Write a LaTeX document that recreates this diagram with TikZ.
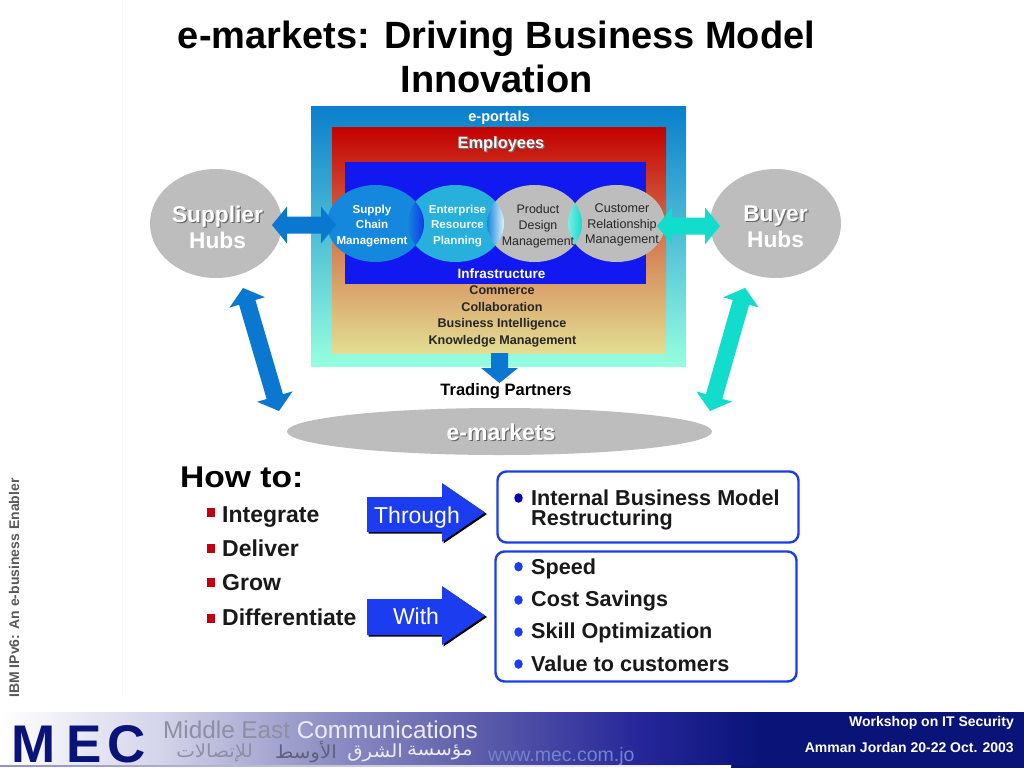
\documentclass[tikz,border=0pt]{standalone}
\usepackage{fontspec}
\setmainfont{Liberation Sans}
\newfontfamily\arabicfont[Script=Arabic]{DejaVu Sans}
\TeXXeTstate=1
\usetikzlibrary{shapes.geometric,calc}
\definecolor{portA}{HTML}{0A7FCC}
\definecolor{portB}{HTML}{96FFE0}
\definecolor{empA}{HTML}{C40000}
\definecolor{empB}{HTML}{E2DE92}
\definecolor{infra}{HTML}{1218F0}
\definecolor{arrowblue}{HTML}{0A78D0}
\definecolor{arrowteal}{HTML}{12DCCC}
\definecolor{hubgray}{HTML}{BDBDBD}
\definecolor{scm}{HTML}{1488DC}
\definecolor{erp}{HTML}{28B0DC}
\definecolor{royal}{HTML}{1C3CF0}
\definecolor{boxblue}{HTML}{1C3CF0}
\definecolor{bullred}{HTML}{C00010}
\definecolor{navy}{HTML}{0A1478}
\definecolor{fA}{HTML}{D4D4EA}
\definecolor{fB}{HTML}{9292C6}
\definecolor{fC}{HTML}{5C5CAA}
\definecolor{fD}{HTML}{26269A}
\definecolor{lightw}{HTML}{ECECF6}
\definecolor{midgray}{HTML}{8E8EA4}
\definecolor{webblue}{HTML}{7484CC}
\definecolor{argray}{HTML}{60607C}
\newcommand{\fsz}[1]{\fontsize{#1}{#1}\selectfont}
\newcommand{\shadowed}[2]{\leavevmode\rlap{\raisebox{-1.2pt}{\kern1.2pt\textcolor{#1}{#2}}}#2}
\tikzset{
  x=1pt,y=-1pt,
  lab/.style={inner sep=0pt,align=center,font=\bfseries},
  ell/.style={ellipse,inner sep=0pt,fill=hubgray},
  roundbox/.style={draw=boxblue,line width=2.4pt,fill=white,rounded corners=9pt},
  bul/.style={inner sep=0pt,minimum width=8.5pt,minimum height=9pt,fill=bullred},
  dot/.style={ellipse,inner sep=0pt,minimum width=8.5pt,minimum height=9.5pt,fill=boxblue},
  howitem/.style={inner sep=0pt,anchor=base west,black!90,font=\bfseries\fsz{23}},
  valitem/.style={inner sep=0pt,anchor=base west,black!90,font=\bfseries\fsz{21.6}},
  arword/.style={inner sep=0pt,anchor=east,font=\arabicfont\fsz{18}},
}
\newcommand{\blockarrow}[3]{%
  \fill[#3] let \p1=($(#2)-(#1)$), \n1={atan2(\y1,\x1)} in
    [rotate around={\n1:(#1)}] (#1) -- ++(15,-18.5) -- ++(0,10) -- ($(#1)+({veclen(\x1,\y1)-15},-8.5)$) -- ++(0,-10) -- ($(#1)+({veclen(\x1,\y1)},0)$) -- ++(-15,18.5) -- ++(0,-10) -- ($(#1)+(15,8.5)$) -- ++(0,10) -- cycle;}
\begin{document}
\begin{tikzpicture}
\useasboundingbox (0,0) rectangle (1024,768);
\fill[white] (0,0) rectangle (1024,768);
\draw[black!3,line width=0.8pt] (122,0) -- (122,695);

% title
\node[lab,font=\bfseries\fsz{38}] (t1) at (496.5,39) {e-markets: Driving Business Model};
\node[lab,font=\bfseries\fsz{38}] (t2) at (496.5,79) {Innovation};

% nested rectangles
\shade[top color=portA,bottom color=portB] (311,106) rectangle (686,366);
\shade[top color=empA,bottom color=empB,middle color=empA!45!empB!100] (332,127) rectangle (666,353);
\fill[infra] (345,162) rectangle (646,284);

\node[lab,white,font=\bfseries\fsz{14.5}] (portals) at (499,118) {e-portals};
\node[lab,white,font=\bfseries\fsz{16.4}] (emp) at (501,144.5) {\shadowed{black!55}{Employees}};
\node[lab,white,font=\bfseries\fsz{13.5}] (inf) at (501.5,273.5) {Infrastructure};
\node[lab,black!85,font=\bfseries\fsz{12.6}] (l1) at (502,290) {Commerce};
\node[lab,black!85,font=\bfseries\fsz{12.6}] (l2) at (502,307) {Collaboration};
\node[lab,black!85,font=\bfseries\fsz{12.6}] (l3) at (502,324) {Business Intelligence};
\node[lab,black!85,font=\bfseries\fsz{12.6}] (l4) at (502.5,341) {Knowledge Management};

% process ellipses
\node[ell,fill=scm,minimum width=97pt,minimum height=77pt] (scm) at (375.5,223.5) {};
\node[ell,fill=erp,minimum width=97pt,minimum height=77pt] (erp) at (455.5,223.5) {};
\node[ell,minimum width=95pt,minimum height=77pt] (pdm) at (534.5,223.5) {};
\node[ell,minimum width=97pt,minimum height=77pt] (crm) at (616.5,223.5) {};
% overlap lenses
\begin{scope}
 \clip (375.5,223.5) ellipse [x radius=48.5,y radius=38.5];
 \clip (455.5,223.5) ellipse [x radius=48.5,y radius=38.5];
 \shade[left color=scm,right color=infra!70!scm] (407,180) rectangle (424,270);
\end{scope}
\begin{scope}
 \clip (455.5,223.5) ellipse [x radius=48.5,y radius=38.5];
 \clip (534.5,223.5) ellipse [x radius=47.5,y radius=38.5];
 \shade[left color=scm,right color=white!85!erp] (487,180) rectangle (504,270);
\end{scope}
\begin{scope}
 \clip (534.5,223.5) ellipse [x radius=47.5,y radius=38.5];
 \clip (616.5,223.5) ellipse [x radius=48.5,y radius=38.5];
 \shade[left color=white!45!arrowteal,right color=arrowteal] (568,180) rectangle (582,270);
\end{scope}
\node[lab,white,font=\bfseries\fsz{11.6}] (scmt) at (372,226) {Supply\\[4pt]Chain\\[4pt]Management};
\node[lab,white!92!erp,font=\bfseries\fsz{11.6}] (erpt) at (457.5,226) {Enterprise\\[4pt]Resource\\[4pt]Planning};
\node[inner sep=0pt,align=center,black!85,font=\fsz{12.4}] (pdmt) at (538,226) {Product\\[3.4pt]Design\\[3.4pt]Management};
\node[inner sep=0pt,align=center,black!85,font=\fsz{12.6}] (crmt) at (622,225) {Customer\\[3.2pt]Relationship\\[3.2pt]Management};

% hubs
\node[ell,minimum width=132pt,minimum height=109pt] (sup) at (216,223.5) {};
\node[lab,white,font=\bfseries\fsz{22.7}] (supt) at (217.5,227) {\shadowed{black!60}{Supplier}\\[3.3pt]Hubs};
\node[ell,minimum width=131pt,minimum height=109pt] (buy) at (775.5,223.5) {};
\node[lab,white,font=\bfseries\fsz{22.7}] (buyt) at (775.5,227) {\shadowed{black!60}{Buyer}\\[3.3pt]Hubs};
\node[ell,minimum width=425pt,minimum height=47pt] (mkt) at (499.5,431.5) {};
\node[lab,white,font=\bfseries\fsz{23}] (mktt) at (501,432.5) {\shadowed{black!60}{e-markets}};

% block arrows
\coordinate (a1) at (272,225); \coordinate (a2) at (336,225);
\coordinate (b1) at (657,226); \coordinate (b2) at (720,226);
\coordinate (c1) at (243,288); \coordinate (c2) at (279,411);
\coordinate (d1) at (745,288); \coordinate (d2) at (710,411);
\blockarrow{a1}{a2}{arrowblue}
\blockarrow{b1}{b2}{arrowteal}
\blockarrow{c1}{c2}{arrowblue}
\blockarrow{d1}{d2}{arrowteal}
\fill[arrowblue] (491,353) -- (508,353) -- (508,368) -- (518,368) -- (499.5,383) -- (481,368) -- (491,368) -- cycle;
\node[lab,font=\bfseries\fsz{16.5}] (tp) at (506,391) {Trading Partners};

% how to
\node[inner sep=0pt,anchor=base west,font=\bfseries\fsz{30}] (how) at (180,487) {\scalebox{1.12}[1]{How to:}};
\foreach \n/\y/\b/\t in {a/512.5/522/Integrate,b/548.5/556/Deliver,c/582.5/590/Grow,d/618/625/Differentiate}{
  \node[bul] (bul\n) at (211,\y) {};
  \node[howitem] (h\n) at (222,\b) {\t};
}

% through / with arrows
\fill[black] (368.5,498.5) -- (443.5,498.5) -- (443.5,484.5) -- (487,514) -- (443.5,543.5) -- (443.5,533.5) -- (368.5,533.5) -- cycle;
\fill[royal] (367,497) -- (442,497) -- (442,483) -- (485,512.5) -- (442,542) -- (442,532) -- (367,532) -- cycle;
\node[inner sep=0pt,anchor=base,white,font=\fsz{23}] (thr) at (417,523) {Through};
\fill[black] (368.5,600.5) -- (443.5,600.5) -- (443.5,587.5) -- (487,617) -- (443.5,646.5) -- (443.5,636.5) -- (368.5,636.5) -- cycle;
\fill[royal] (367,599) -- (442,599) -- (442,586) -- (485,615.5) -- (442,645) -- (442,635) -- (367,635) -- cycle;
\node[inner sep=0pt,anchor=base,white,font=\fsz{23}] (wit) at (416,624) {With};

% boxes
\node[roundbox,minimum width=301pt,minimum height=71pt] (box1) at (648,507) {};
\node[roundbox,minimum width=301pt,minimum height=130pt] (box2) at (646,616.5) {};
\node[dot,fill=blue!70!black] (d1a) at (518.5,498) {};
\node[valitem] (int) at (531,505) {Internal Business Model};
\node[valitem] (res) at (531,525) {Restructuring};
\foreach \n/\y/\b/\t in {a/566.7/574/Speed,b/600/606/Cost Savings,c/632/638/Skill Optimization,d/664/671/Value to customers}{
  \node[dot] (dot\n) at (518.5,\y) {};
  \node[valitem] (v\n) at (531,\b) {\t};
}

% side label
\node[inner sep=0pt,rotate=90,black!65,font=\bfseries\fsz{14}] (side) at (14,588) {IBM IPv6: An e-business Enabler};

% footer
\shade[left color=white,right color=fA] (0,712) rectangle (160,765.5);
\shade[left color=fA,right color=fB] (160,712) rectangle (320,765.5);
\shade[left color=fB,right color=fC] (320,712) rectangle (480,765.5);
\shade[left color=fC,right color=fD] (480,712) rectangle (640,765.5);
\shade[left color=fD,right color=navy] (640,712) rectangle (760,765.5);
\fill[navy] (760,712) rectangle (1024,768);
\fill[navy] (731,765) rectangle (760,768);
\shade[left color=fB,right color=white] (0,765.8) rectangle (731,766.8);
\node[inner sep=0pt,navy,anchor=base west,font=\bfseries\fsz{53}] (mec) at (11,762) {M\kern11pt E\kern6pt C};
\node[inner sep=0pt,anchor=base west,font=\fsz{24.3}] (mid) at (163,738.5) {\textcolor{midgray}{Middle East} \textcolor{lightw}{Communications}};
\node[arword,lightw] (ar1) at (473,752.5) {\scalebox{1.1}[1]{\beginR مؤسسة\endR}};
\node[arword,lightw] (ar2) at (403,752.5) {\scalebox{1.1}[1]{\beginR الشرق\endR}};
\node[arword,argray] (ar3) at (337,752.5) {\scalebox{1.1}[1]{\beginR الأوسط\endR}};
\node[arword,midgray] (ar4) at (253,752.5) {\scalebox{1.1}[1]{\beginR للإتصالات\endR}};
\node[inner sep=0pt,anchor=west,webblue,font=\fsz{19.5}] (web) at (488,756) {www.mec.com.jo};
\node[lab,anchor=east,white,font=\bfseries\fsz{14}] (w1) at (1014,722.5) {Workshop on IT Security};
\node[lab,anchor=east,white,font=\bfseries\fsz{14}] (w2) at (1014,747) {Amman Jordan 20-22 Oct. 2003};
\end{tikzpicture}
\end{document}
